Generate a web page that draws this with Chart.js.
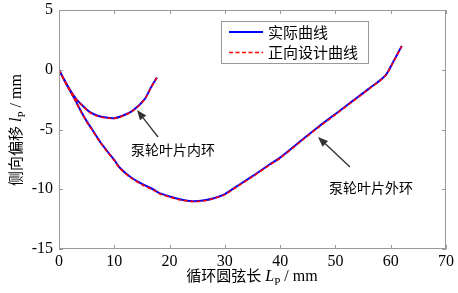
<!DOCTYPE html>
<html>
<head>
<meta charset="utf-8">
<script src="https://cdn.jsdelivr.net/npm/chart.js@4"></script>
<style>
  html, body { margin: 0; padding: 0; background: #fff; }
  #wrap { width: 458px; height: 293px; position: relative; }
</style>
</head>
<body>
<div id="wrap"><canvas id="c" width="458" height="293"></canvas></div>
<script>
// inner ring (泵轮叶片内环)
const innerX = [0, 1, 2, 3.2, 4.5, 5.6, 7, 8.5, 10, 11.5, 13.4, 15.5, 16.6, 17.7];
const innerY = [0, -0.9, -1.7, -2.5, -3.1, -3.55, -3.85, -4.0, -4.05, -3.85, -3.4, -2.45, -1.5, -0.65];
const innerDesignY = [0, -0.92, -1.72, -2.52, -3.13, -3.58, -3.88, -4.03, -4.07, -3.87, -3.42, -2.47, -1.52, -0.67];

// outer ring (泵轮叶片外环)
const outerX = [0, 1, 2, 3, 4, 5, 6, 7.4, 8.7, 10, 11, 13, 15.2, 17, 18.3, 20, 22, 24.2, 26, 28, 30, 32, 35, 38, 40, 43.6, 47, 50, 53, 56, 59, 60.5, 62];
const outerY = [0, -0.9, -1.75, -2.6, -3.5, -4.3, -5.0, -6.0, -6.8, -7.55, -8.2, -9.0, -9.6, -10.0, -10.35, -10.6, -10.85, -11.0, -10.95, -10.75, -10.4, -9.8, -8.9, -7.95, -7.35, -6.0, -4.75, -3.7, -2.65, -1.6, -0.5, 0.7, 2.0];
const outerDesignY = [0, -0.92, -1.78, -2.63, -3.54, -4.34, -5.05, -6.05, -6.85, -7.6, -8.25, -9.05, -9.66, -10.05, -10.4, -10.65, -10.9, -11.03, -10.98, -10.78, -10.45, -9.85, -8.95, -8.0, -7.4, -6.05, -4.8, -3.75, -2.7, -1.63, -0.52, 0.68, 1.98];

const xTicks = [0, 10, 20, 30, 40, 50, 60, 70];
const yTicks = [-15, -10, -5, 0, 5];

const legendLabels = ['实际曲线', '正向设计曲线'];
const innerLabel = '泵轮叶片内环';
const outerLabel = '泵轮叶片外环';

const pts = (xs, ys) => xs.map((x, i) => ({ x: x, y: ys[i] }));

const serif = '"Liberation Serif", "Times New Roman", serif';
const cjk = '"Noto Sans CJK SC", sans-serif';
const axisGray = '#9a9a9a';

function drawArrow(ctx, x0, y0, x1, y1) {
  ctx.save();
  ctx.strokeStyle = '#333';
  ctx.fillStyle = '#333';
  ctx.lineWidth = 1.3;
  const a = Math.atan2(y1 - y0, x1 - x0);
  const hl = 10, hw = 4;
  const bx = x1 - hl * Math.cos(a), by = y1 - hl * Math.sin(a);
  ctx.beginPath();
  ctx.moveTo(x0, y0);
  ctx.lineTo(bx, by);
  ctx.stroke();
  ctx.beginPath();
  ctx.moveTo(x1, y1);
  ctx.lineTo(bx + hw * Math.sin(a), by - hw * Math.cos(a));
  ctx.lineTo(bx - hw * Math.sin(a), by + hw * Math.cos(a));
  ctx.closePath();
  ctx.fill();
  ctx.restore();
}

// axis title with italic symbol + subscript
function drawTitle(ctx, cx, cy, rot, head, sym) {
  ctx.save();
  ctx.translate(cx, cy);
  ctx.rotate(rot);
  ctx.fillStyle = '#000';
  ctx.textBaseline = 'alphabetic';
  const parts = [
    { t: head, f: '15px ' + cjk, dy: 0 },
    { t: ' ', f: '16px ' + serif, dy: 0 },
    { t: sym, f: 'italic 16px ' + serif, dy: 0 },
    { t: 'P', f: '11px ' + serif, dy: 4 },
    { t: ' / mm', f: '16px ' + serif, dy: 0 }
  ];
  let total = 0;
  parts.forEach(p => { ctx.font = p.f; p.w = ctx.measureText(p.t).width; total += p.w; });
  let x = -total / 2;
  parts.forEach(p => {
    ctx.font = p.f;
    ctx.fillText(p.t, x, 5 + p.dy);
    x += p.w;
  });
  ctx.restore();
}

const decor = {
  id: 'decor',
  afterDraw(chart) {
    const ctx = chart.ctx;
    const xs = chart.scales.x, ys = chart.scales.y;
    const a = chart.chartArea;
    ctx.save();
    // frame
    ctx.strokeStyle = axisGray;
    ctx.lineWidth = 1;
    ctx.strokeRect(a.left + 0.5, a.top + 0.5, a.right - a.left - 1, a.bottom - a.top - 1);
    // inside ticks on all sides
    ctx.beginPath();
    xTicks.forEach(v => {
      const px = Math.round(xs.getPixelForValue(v)) + 0.5;
      ctx.moveTo(px, a.bottom); ctx.lineTo(px, a.bottom - 4);
      ctx.moveTo(px, a.top); ctx.lineTo(px, a.top + 4);
    });
    yTicks.forEach(v => {
      const py = Math.round(ys.getPixelForValue(v)) + 0.5;
      ctx.moveTo(a.left, py); ctx.lineTo(a.left + 4, py);
      ctx.moveTo(a.right, py); ctx.lineTo(a.right - 4, py);
    });
    ctx.stroke();

    // annotations
    ctx.fillStyle = '#000';
    ctx.font = '14px ' + cjk;
    ctx.textAlign = 'center';
    ctx.textBaseline = 'middle';
    ctx.fillText(innerLabel, 173, 150);
    ctx.fillText(outerLabel, 371, 188);
    drawArrow(ctx, 158, 137, 137, 110);
    drawArrow(ctx, 350, 167, 318, 137);

    // legend
    ctx.fillStyle = '#fff';
    ctx.fillRect(221, 21, 148, 43);
    ctx.strokeStyle = axisGray;
    ctx.strokeRect(221.5, 21.5, 147, 42);
    ctx.lineWidth = 2;
    ctx.strokeStyle = '#0000ff';
    ctx.beginPath(); ctx.moveTo(229, 32); ctx.lineTo(263, 32); ctx.stroke();
    ctx.strokeStyle = '#ff0000';
    ctx.lineWidth = 1.6;
    ctx.setLineDash([4, 2.5]);
    ctx.beginPath(); ctx.moveTo(229, 52.5); ctx.lineTo(263, 52.5); ctx.stroke();
    ctx.setLineDash([]);
    ctx.fillStyle = '#000';
    ctx.font = '15px ' + cjk;
    ctx.textAlign = 'left';
    ctx.fillText(legendLabels[0], 268, 32);
    ctx.fillText(legendLabels[1], 268, 52);

    // axis titles
    drawTitle(ctx, 252, 276, 0, '循环圆弦长', 'L');
    drawTitle(ctx, 16, 130, -Math.PI / 2, '侧向偏移', 'l');
    ctx.restore();
  }
};

new Chart(document.getElementById('c'), {
  type: 'scatter',
  data: {
    datasets: [
      { label: legendLabels[1] + '-内', data: pts(innerX, innerDesignY), borderColor: '#ff0000', borderWidth: 1.6, borderDash: [4, 2.5] },
      { label: legendLabels[1] + '-外', data: pts(outerX, outerDesignY), borderColor: '#ff0000', borderWidth: 1.6, borderDash: [4, 2.5] },
      { label: legendLabels[0] + '-内', data: pts(innerX, innerY), borderColor: '#0000ff', borderWidth: 2 },
      { label: legendLabels[0] + '-外', data: pts(outerX, outerY), borderColor: '#0000ff', borderWidth: 2 }
    ].map(d => Object.assign(d, { showLine: true, pointRadius: 0, tension: 0.3, fill: false }))
  },
  options: {
    responsive: false,
    animation: false,
    layout: { padding: { top: 10, right: 12, left: 0, bottom: 0 } },
    plugins: { legend: { display: false }, tooltip: { enabled: false } },
    scales: {
      x: {
        type: 'linear', min: 0, max: 70,
        grid: { display: false, drawTicks: false },
        border: { display: false },
        ticks: { stepSize: 10, padding: 3, color: '#000', font: { family: serif, size: 16 } },
        afterFit: s => { s.height = 44; s.paddingLeft = 0; s.paddingRight = 0; }
      },
      y: {
        type: 'linear', min: -15, max: 5,
        grid: { display: false, drawTicks: false },
        border: { display: false },
        ticks: { stepSize: 5, padding: 6, color: '#000', font: { family: serif, size: 16 } },
        afterFit: s => { s.width = 59; s.paddingTop = 0; s.paddingBottom = 0; }
      }
    }
  },
  plugins: [decor]
});
</script>
</body>
</html>
